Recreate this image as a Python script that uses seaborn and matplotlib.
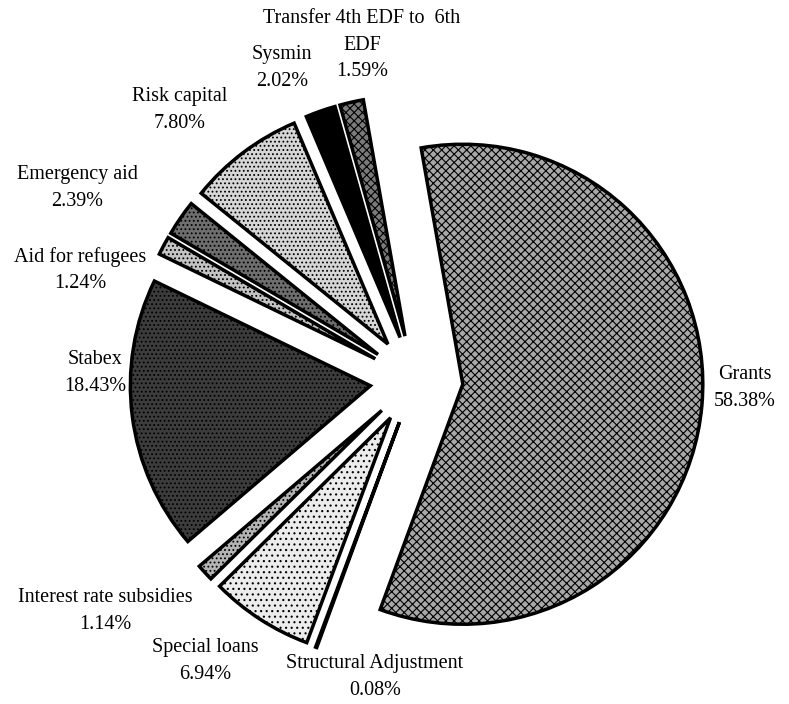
import matplotlib.pyplot as plt
import seaborn as sns

sns.set_theme(style="white")
plt.rcParams['font.family'] = ['Liberation Serif', 'DejaVu Serif']
plt.rcParams['hatch.linewidth'] = 0.8

# Slice data, clockwise from the top
categories = ['Grants', 'Structural Adjustment', 'Special loans',
              'Interest rate subsidies', 'Stabex', 'Aid for refugees',
              'Emergency aid', 'Risk capital', 'Sysmin',
              'Transfer 4th EDF to  6th\nEDF']
shares = [58.38, 0.08, 6.94, 1.14, 18.43, 1.24, 2.39, 7.80, 2.02, 1.59]

# grey shades + dot textures to mimic the printed halftones
fills = ['#a8a8a8', '#ffffff', '#ececec', '#b4b4b4', '#3c3c3c',
         '#c4c4c4', '#6e6e6e', '#d6d6d6', '#000000', '#7a7a7a']
hatches = ['xxxx', None, '...', '....', '....', '....', '....', '....', None, 'xxxx']
explode = [48, 45, 45, 45, 45, 45, 45, 45, 45, 45]

# label centres in pixels (x, y from top)
label_pos = [(745, 388), (375, 677), (205, 661), (105, 611), (95, 373),
             (80, 270), (77, 188), (180, 110), (282, 68), (362, 45)]
line_gap = 26.5

W, H = 789, 704
fig = plt.figure(figsize=(W / 100, H / 100), dpi=100)
ax = fig.add_axes([0, 0, 1, 1])

wedges, _ = ax.pie(shares, explode=explode, startangle=100, counterclock=False,
                   radius=240, center=(415, H - 380), colors=fills,
                   wedgeprops=dict(edgecolor='black', linewidth=2.5))
for w, h in zip(wedges, hatches):
    if h:
        w.set_hatch(h)

# one text per line so each line keeps its own box
for name, val, (x, y) in zip(categories, shares, label_pos):
    lines = f"{name}\n{val:.2f}%".split("\n")
    n = len(lines)
    for i, line in enumerate(lines):
        yy = y + (i - (n - 1) / 2) * line_gap
        ax.text(x, H - yy, line, ha='center', va='center',
                fontsize=14.5, color='black')

ax.set_xlim(0, W)
ax.set_ylim(0, H)
ax.set_aspect('equal')
ax.axis('off')

fig.savefig('out.png', dpi=100, facecolor='white')
